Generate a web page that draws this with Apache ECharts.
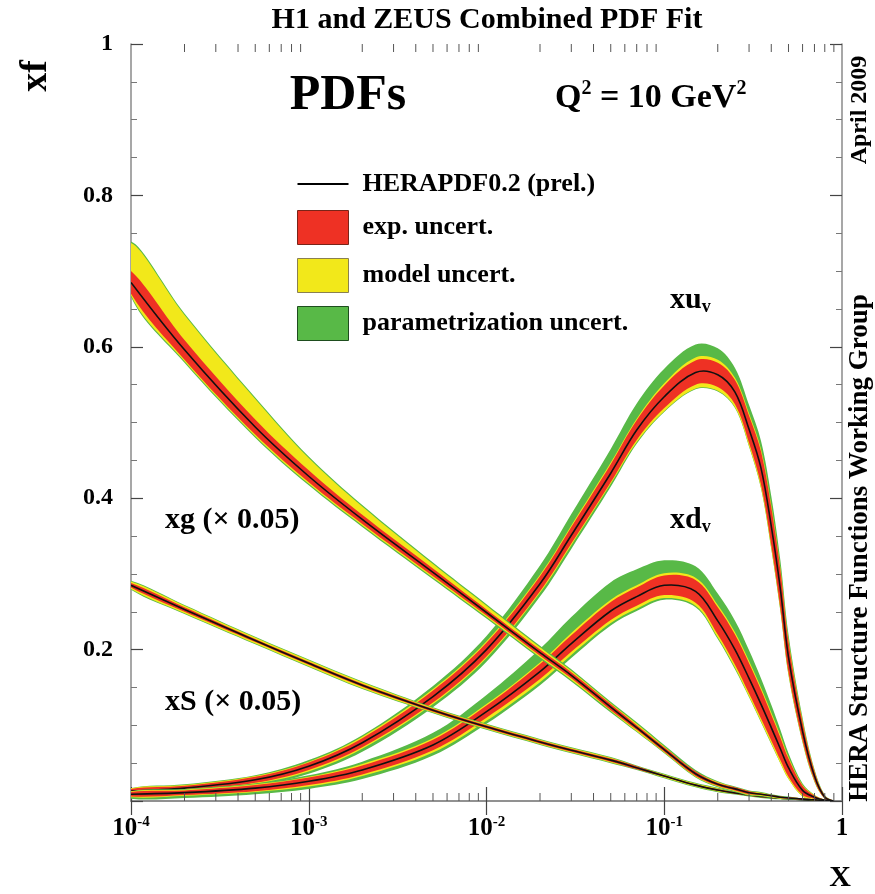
<!DOCTYPE html>
<html><head><meta charset="utf-8">
<script src="https://cdn.jsdelivr.net/npm/echarts@6/dist/echarts.min.js"></script>
<style>html,body{margin:0;padding:0;background:#fff}#c{width:875px;height:894px}</style>
</head><body><div id="c"></div>
<script>
// ---------- data ----------
const X = [1e-4, 2e-4, 5e-4, 1e-3, 2e-3, 5e-3, 0.01, 0.02, 0.03, 0.05, 0.07, 0.1, 0.15, 0.2, 0.25, 0.3, 0.35, 0.4, 0.45, 0.5, 0.6, 0.7, 0.8, 0.9];

const xuC    = [0.013,0.017,0.028,0.046,0.077,0.138,0.200,0.287,0.351,0.433,0.490,0.534,0.566,0.563,0.540,0.491,0.440,0.363,0.280,0.190,0.092,0.033,0.005,0.000];
const xuExp  = [0.003,0.003,0.004,0.005,0.006,0.008,0.009,0.010,0.011,0.012,0.013,0.015,0.016,0.016,0.016,0.018,0.022,0.025,0.025,0.020,0.012,0.006,0.002,0.000];
const xuModU = [0.004,0.004,0.005,0.006,0.008,0.010,0.011,0.012,0.013,0.014,0.015,0.018,0.020,0.020,0.019,0.021,0.025,0.028,0.028,0.023,0.014,0.007,0.002,0.000];
const xuModD = [0.004,0.004,0.005,0.007,0.008,0.010,0.011,0.012,0.013,0.014,0.016,0.019,0.021,0.021,0.020,0.022,0.026,0.029,0.028,0.023,0.014,0.007,0.002,0.000];
const xuParU = [0.004,0.005,0.006,0.008,0.010,0.014,0.018,0.024,0.028,0.032,0.035,0.037,0.037,0.035,0.032,0.032,0.036,0.040,0.038,0.030,0.018,0.009,0.003,0.000];
const xuParD = [0.006,0.007,0.008,0.010,0.012,0.014,0.016,0.017,0.018,0.018,0.018,0.020,0.022,0.022,0.021,0.023,0.027,0.030,0.029,0.024,0.015,0.008,0.002,0.000];

const xdC    = [0.009,0.011,0.017,0.026,0.041,0.074,0.118,0.171,0.208,0.251,0.270,0.285,0.277,0.238,0.200,0.162,0.128,0.097,0.069,0.044,0.014,0.005,0.001,0.000];
const xdExp  = [0.003,0.003,0.004,0.005,0.006,0.007,0.008,0.010,0.011,0.012,0.012,0.013,0.015,0.018,0.020,0.020,0.019,0.017,0.015,0.012,0.006,0.002,0.001,0.000];
const xdModU = [0.004,0.004,0.005,0.006,0.008,0.009,0.010,0.012,0.014,0.015,0.015,0.016,0.018,0.021,0.023,0.023,0.022,0.020,0.018,0.014,0.007,0.003,0.001,0.000];
const xdModD = [0.004,0.004,0.005,0.007,0.008,0.010,0.012,0.014,0.015,0.016,0.016,0.017,0.019,0.022,0.024,0.024,0.023,0.021,0.019,0.015,0.008,0.003,0.001,0.000];
const xdParU = [0.004,0.005,0.006,0.008,0.011,0.016,0.022,0.030,0.035,0.038,0.036,0.033,0.033,0.036,0.038,0.037,0.034,0.030,0.025,0.019,0.009,0.003,0.001,0.000];
const xdParD = [0.006,0.007,0.008,0.010,0.012,0.014,0.016,0.018,0.019,0.019,0.019,0.019,0.021,0.024,0.026,0.025,0.024,0.022,0.019,0.015,0.008,0.003,0.001,0.000];

const xgC    = [0.685,0.596,0.494,0.429,0.372,0.302,0.249,0.196,0.166,0.124,0.097,0.068,0.036,0.022,0.016,0.011,0.009,0.007,0.005,0.004,0.0025,0.0015,0.0007,0.0002];
const xgExp  = [0.015,0.013,0.010,0.008,0.006,0.005,0.004,0.004,0.004,0.004,0.003,0.003,0.003,0.002,0.002,0.002,0.001,0.001,0.001,0.001,0.001,0.0005,0.0003,0.0001];
const xgModU = [0.052,0.046,0.037,0.024,0.017,0.011,0.009,0.007,0.006,0.005,0.005,0.004,0.003,0.003,0.002,0.002,0.002,0.001,0.001,0.001,0.001,0.0005,0.0003,0.0001];
const xgModD = [0.017,0.015,0.012,0.010,0.008,0.007,0.006,0.006,0.006,0.005,0.005,0.004,0.004,0.003,0.003,0.003,0.002,0.002,0.002,0.001,0.001,0.0007,0.0004,0.0001];
const xgParU = [0.054,0.048,0.039,0.026,0.019,0.013,0.011,0.009,0.008,0.007,0.007,0.006,0.005,0.004,0.003,0.003,0.003,0.002,0.002,0.002,0.001,0.0008,0.0004,0.0001];
const xgParD = [0.019,0.017,0.014,0.012,0.010,0.009,0.008,0.008,0.008,0.007,0.006,0.005,0.005,0.004,0.004,0.004,0.003,0.003,0.002,0.002,0.001,0.0008,0.0004,0.0001];

const xsC    = [0.285,0.253,0.212,0.182,0.153,0.120,0.098,0.078,0.067,0.054,0.044,0.033,0.021,0.0145,0.0105,0.008,0.006,0.0047,0.0037,0.003,0.0018,0.001,0.0005,0.0001];
const xsExp  = [0.003,0.003,0.002,0.002,0.002,0.002,0.002,0.002,0.002,0.002,0.002,0.001,0.001,0.001,0.001,0.001,0.001,0.001,0.0005,0.0005,0.0003,0.0002,0.0001,0.0000];
const xsMod  = [0.005,0.005,0.004,0.004,0.004,0.003,0.003,0.003,0.003,0.003,0.002,0.002,0.002,0.002,0.001,0.001,0.001,0.001,0.001,0.0008,0.0005,0.0003,0.0001,0.0000];
const xsPar  = [0.006,0.006,0.005,0.005,0.005,0.004,0.004,0.004,0.004,0.004,0.003,0.003,0.003,0.003,0.002,0.002,0.002,0.002,0.0015,0.0012,0.0008,0.0005,0.0002,0.0000];

const X_DECADES = [1e-4, 1e-3, 1e-2, 1e-1];
const X_MINOR_MULT = [2, 3, 4, 5, 6, 7, 8, 9];
const X_TICK_LABELS = {'-4': '{b|10}{e|-4}', '-3': '{b|10}{e|-3}', '-2': '{b|10}{e|-2}', '-1': '{b|10}{e|-1}', '0': '{b|1}'};
const Y_TICK_LABELS = {'0.2': '0.2', '0.4': '0.4', '0.6': '0.6', '0.8': '0.8', '1': '1'};

const LEG_LINE = 'HERAPDF0.2 (prel.)';
const LEG_EXP = 'exp. uncert.';
const LEG_MOD = 'model uncert.';
const LEG_PAR = 'parametrization uncert.';

// ---------- styling ----------
const RED = '#ee3124', YELLOW = '#f2e81a', GREEN = '#58b947';
const SERIF = '"Liberation Serif", "DejaVu Serif", serif';
const SMOOTH = 0.35;

function curveSeries(name, c, e, mu, md, pu, pd) {
  return {
    type: 'custom', name: name, coordinateSystem: 'cartesian2d',
    xAxisIndex: 0, yAxisIndex: 0, silent: true, clip: true,
    data: [[X[0], c[0]]],
    renderItem: function (params, api) {
      const up = arr => X.map((x, i) => api.coord([x, c[i] + arr[i]]));
      const dn = arr => X.map((x, i) => api.coord([x, Math.max(0, c[i] - arr[i])]));
      const poly = (u, d, fill) => ({
        type: 'polygon', shape: { points: u.concat(d.reverse()), smooth: SMOOTH },
        style: { fill: fill, stroke: null }
      });
      return {
        type: 'group', children: [
          poly(up(pu), dn(pd), GREEN),
          poly(up(mu), dn(md), YELLOW),
          poly(up(e), dn(e), RED),
          { type: 'polyline', shape: { points: X.map((x, i) => api.coord([x, c[i]])), smooth: SMOOTH },
            style: { stroke: '#111', lineWidth: 1.6, fill: null } }
        ]
      };
    }
  };
}

const minorTickSeries = {
  type: 'custom', name: 'minorTicks', coordinateSystem: 'cartesian2d',
  xAxisIndex: 0, yAxisIndex: 0, silent: true, z: 5,
  data: [[1e-2, 0.5]],
  renderItem: function (params, api) {
    const cs = params.coordSys;
    const children = [];
    X_DECADES.forEach(d => X_MINOR_MULT.forEach(m => {
      const p = api.coord([d * m, 0]);
      const len = 8;
      children.push({ type: 'line', shape: { x1: p[0], y1: cs.y + cs.height, x2: p[0], y2: cs.y + cs.height - len },
        style: { stroke: '#555', lineWidth: 1 } });
      children.push({ type: 'line', shape: { x1: p[0], y1: cs.y, x2: p[0], y2: cs.y + len },
        style: { stroke: '#555', lineWidth: 1 } });
    }));
    return { type: 'group', children: children };
  }
};

const axisLineStyle = { color: '#8a8a8a', width: 1.5 };
const tickStyle = { color: '#444', width: 1.2 };

const option = {
  animation: false,
  backgroundColor: '#fff',
  grid: { left: 131, right: 33, top: 44, bottom: 93, containLabel: false },
  xAxis: [{
    type: 'log', logBase: 10, min: 1e-4, max: 1, position: 'bottom',
    axisLine: { show: true, lineStyle: axisLineStyle },
    axisTick: { show: true, inside: true, length: 14, lineStyle: tickStyle },
    splitLine: { show: false },
    axisLabel: {
      show: true, margin: 14,
      formatter: v => X_TICK_LABELS[String(Math.round(Math.log10(v)))] || '',
      rich: {
        b: { fontFamily: SERIF, fontWeight: 'bold', fontSize: 25, color: '#000', lineHeight: 28 },
        e: { fontFamily: SERIF, fontWeight: 'bold', fontSize: 15, color: '#000', lineHeight: 16, verticalAlign: 'top' }
      }
    }
  }, {
    type: 'log', logBase: 10, min: 1e-4, max: 1, position: 'top',
    axisLine: { show: true, lineStyle: axisLineStyle },
    axisTick: { show: true, inside: true, length: 14, lineStyle: tickStyle },
    splitLine: { show: false }, axisLabel: { show: false }
  }],
  yAxis: [{
    type: 'value', min: 0, max: 1, interval: 0.2, position: 'left',
    axisLine: { show: true, lineStyle: axisLineStyle },
    axisTick: { show: true, inside: true, length: 12, lineStyle: tickStyle },
    minorTick: { show: true, splitNumber: 4, length: 6, lineStyle: { color: '#777', width: 1 } },
    splitLine: { show: false },
    axisLabel: {
      show: true, margin: 18, fontFamily: SERIF, fontWeight: 'bold', fontSize: 24, color: '#000',
      formatter: v => Y_TICK_LABELS[String(Math.round(v * 10) / 10)] || ''
    }
  }, {
    type: 'value', min: 0, max: 1, interval: 0.2, position: 'right',
    axisLine: { show: true, lineStyle: axisLineStyle },
    axisTick: { show: true, inside: true, length: 12, lineStyle: tickStyle },
    minorTick: { show: true, splitNumber: 4, length: 6, lineStyle: { color: '#777', width: 1 } },
    splitLine: { show: false }, axisLabel: { show: false }
  }],
  legend: {
    orient: 'vertical', left: 292, top: 166, itemWidth: 51, itemHeight: 34, itemGap: 13,
    selectedMode: false, symbolKeepAspect: true,
    textStyle: { fontFamily: SERIF, fontWeight: 'bold', fontSize: 26, color: '#000', padding: [0, 0, 0, 9] },
    data: [
      { name: LEG_LINE, icon: 'path://M0,0L51,0L51,2L0,2Z', itemStyle: { color: '#000' } },
      { name: LEG_EXP, icon: 'rect', itemStyle: { color: RED, borderColor: '#7a2418', borderWidth: 1 } },
      { name: LEG_MOD, icon: 'rect', itemStyle: { color: YELLOW, borderColor: '#8a8050', borderWidth: 1 } },
      { name: LEG_PAR, icon: 'rect', itemStyle: { color: GREEN, borderColor: '#1e4d1e', borderWidth: 1 } }
    ]
  },
  graphic: [
    { type: 'text', x: 487, y: 20, style: { text: 'H1 and ZEUS Combined PDF Fit', font: 'bold 30px ' + SERIF, fill: '#000', align: 'center', verticalAlign: 'middle' } },
    { type: 'text', x: 36, y: 76, rotation: Math.PI / 2, style: { text: 'xf', font: 'bold 38px ' + SERIF, fill: '#000', align: 'center', verticalAlign: 'middle' } },
    { type: 'text', x: 840, y: 878, style: { text: 'X', font: 'bold 30px ' + SERIF, fill: '#000', align: 'center', verticalAlign: 'middle' } },
    { type: 'text', x: 348, y: 96, style: { text: 'PDFs', font: 'bold 50px ' + SERIF, fill: '#000', align: 'center', verticalAlign: 'middle' } },
    { type: 'text', x: 555, y: 98, style: { text: '{n|Q}{s|2}{n| = 10 GeV}{s|2}', align: 'left', verticalAlign: 'middle',
        rich: { n: { font: 'bold 34px ' + SERIF, fill: '#000', lineHeight: 38 }, s: { font: 'bold 20px ' + SERIF, fill: '#000', lineHeight: 22, verticalAlign: 'top' } } } },
    { type: 'text', x: 670, y: 300, style: { text: '{n|xu}{s|v}', align: 'left', verticalAlign: 'middle',
        rich: { n: { font: 'bold 30px ' + SERIF, fill: '#000', lineHeight: 32 }, s: { font: 'bold 18px ' + SERIF, fill: '#000', lineHeight: 18, verticalAlign: 'bottom' } } } },
    { type: 'text', x: 670, y: 520, style: { text: '{n|xd}{s|v}', align: 'left', verticalAlign: 'middle',
        rich: { n: { font: 'bold 30px ' + SERIF, fill: '#000', lineHeight: 32 }, s: { font: 'bold 18px ' + SERIF, fill: '#000', lineHeight: 18, verticalAlign: 'bottom' } } } },
    { type: 'text', x: 165, y: 520, style: { text: 'xg (\u00d7 0.05)', font: 'bold 30px ' + SERIF, fill: '#000', align: 'left', verticalAlign: 'middle' } },
    { type: 'text', x: 165, y: 702, style: { text: 'xS (\u00d7 0.05)', font: 'bold 30px ' + SERIF, fill: '#000', align: 'left', verticalAlign: 'middle' } },
    { type: 'text', x: 860, y: 110, rotation: Math.PI / 2, style: { text: 'April 2009', font: 'bold 24px ' + SERIF, fill: '#000', align: 'center', verticalAlign: 'middle' } },
    { type: 'text', x: 860, y: 548, rotation: Math.PI / 2, style: { text: 'HERA Structure Functions Working Group', font: 'bold 27px ' + SERIF, fill: '#000', align: 'center', verticalAlign: 'middle' } }
  ],
  series: [
    curveSeries('xuv', xuC, xuExp, xuModU, xuModD, xuParU, xuParD),
    curveSeries('xdv', xdC, xdExp, xdModU, xdModD, xdParU, xdParD),
    curveSeries('xS', xsC, xsExp, xsMod, xsMod, xsPar, xsPar),
    curveSeries('xg', xgC, xgExp, xgModU, xgModD, xgParU, xgParD),
    minorTickSeries,
    { type: 'line', name: LEG_LINE, data: [], symbol: 'none', lineStyle: { color: '#000', width: 2 }, itemStyle: { color: '#000' } },
    { type: 'line', name: LEG_EXP, data: [], symbol: 'none', itemStyle: { color: RED } },
    { type: 'line', name: LEG_MOD, data: [], symbol: 'none', itemStyle: { color: YELLOW } },
    { type: 'line', name: LEG_PAR, data: [], symbol: 'none', itemStyle: { color: GREEN } }
  ]
};

const chart = echarts.init(document.getElementById('c'), null, { renderer: 'canvas' });
chart.setOption(option);
</script>
</body></html>
